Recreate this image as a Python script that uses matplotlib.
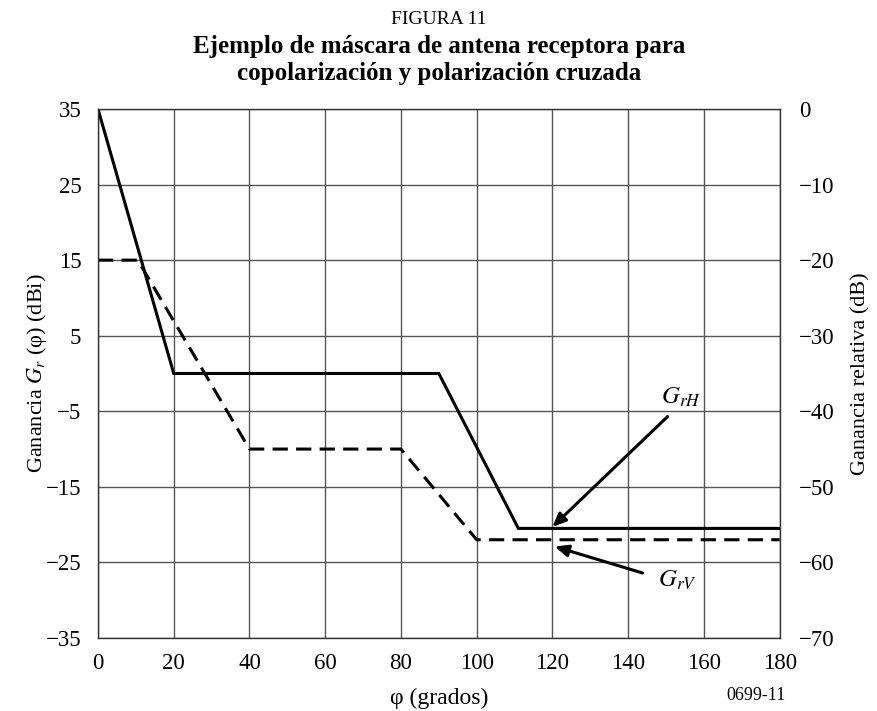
import numpy as np
import matplotlib
matplotlib.use("Agg")
import matplotlib.pyplot as plt

plt.rcParams["font.family"] = ["Liberation Serif", "DejaVu Serif"]
plt.rcParams["mathtext.fontset"] = "stix"

# copolar (G_rH) and cross-polar (G_rV) mask break points
phi_h = [0, 20, 90, 111, 180]
gain_h = [35, 0, 0, -20.5, -20.5]
phi_v = [0, 10.5, 40, 80, 100, 180]
gain_v = [15, 15, -10, -10, -22, -22]

x_ticks = list(range(0, 181, 20))
left_ticks = [35, 25, 15, 5, -5, -15, -25, -35]
right_ticks = [0, -10, -20, -30, -40, -50, -60, -70]

fig = plt.figure(figsize=(8.78, 7.11), dpi=100)
ax = fig.add_axes([0.1116, 0.1027, 0.7764, 0.744])

ax.plot(phi_h, gain_h, color="black", lw=2.2, solid_joinstyle="miter")
ax.plot(phi_v, gain_v, color="black", lw=2.2, linestyle=(0, (5, 2.7)))

ax.set_xlim(0, 180)
ax.set_ylim(-35, 35)
ax.set_xticks(x_ticks)
ax.set_yticks(left_ticks)
ax.grid(True, color="#555555", lw=1)
ax.tick_params(axis="y", length=0, labelsize=16.5, pad=12)
ax.tick_params(axis="x", length=0, labelsize=16.5, pad=11)
for s in ax.spines.values():
    s.set_color("#333333")
    s.set_linewidth(1)

ax.set_xlabel("φ (grados)", fontsize=17, labelpad=10)
ax.set_ylabel("Ganancia $G_r$ (φ) (dBi)", fontsize=16)
ax.yaxis.set_label_coords(-0.072, 0.5)

ax2 = ax.twinx()
ax2.set_ylim(-70, 0)
ax2.set_yticks(right_ticks)
ax2.tick_params(length=0, labelsize=16.5, pad=14)
ax2.set_ylabel("Ganancia relativa (dB)", fontsize=16)
ax2.yaxis.set_label_coords(1.105, 0.5)
for s in ax2.spines.values():
    s.set_visible(False)

arrow = dict(arrowstyle="-|>,head_length=0.8,head_width=0.35", color="black", lw=2.2,
             shrinkA=0, shrinkB=0)
ax.annotate("", xy=(120, -20.3), xytext=(150.4, -5.7), arrowprops=arrow)
ax.annotate("", xy=(120.6, -22.9), xytext=(143.8, -26.4), arrowprops=arrow)
ax.text(154, -3.2, "$G_{rH}$", fontsize=18, ha="center", va="center")
ax.text(153, -27.4, "$G_{rV}$", fontsize=18, ha="center", va="center")

fig.text(0.5, 0.972, "FIGURA 11", ha="center", va="center", fontsize=14)
fig.text(0.5, 0.935, "Ejemplo de máscara de antena receptora para", ha="center",
         va="center", fontsize=18, fontweight="bold")
fig.text(0.5, 0.897, "copolarización y polarización cruzada", ha="center",
         va="center", fontsize=18, fontweight="bold")
fig.text(0.861, 0.022, "0699-11", ha="center", va="center", fontsize=13)

fig.savefig("out.png", dpi=100)
